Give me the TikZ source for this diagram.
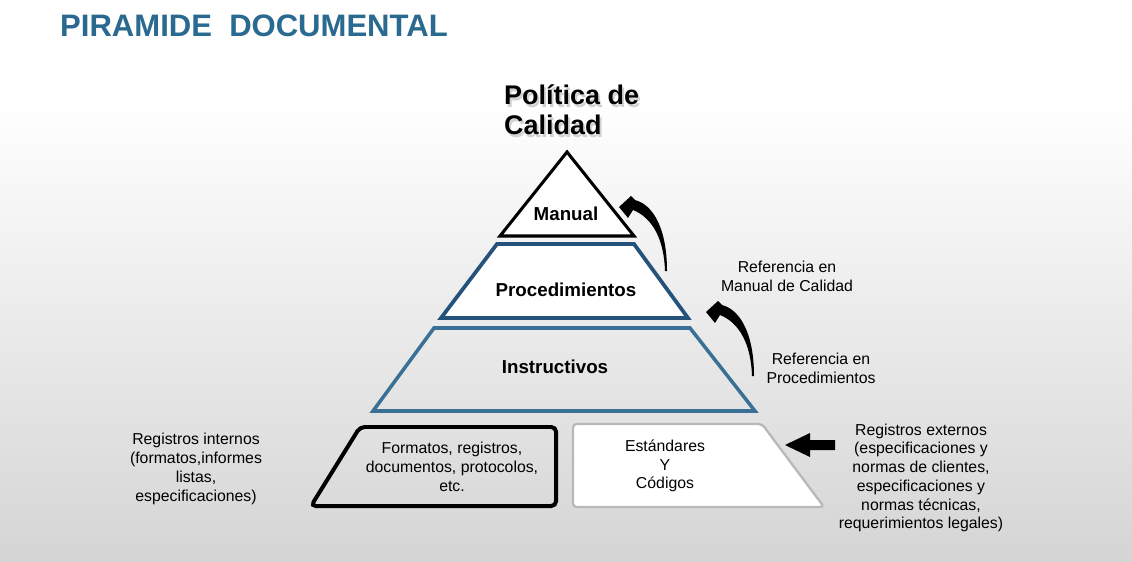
\documentclass[tikz,border=0pt]{standalone}
\usepackage{fontspec}
\setmainfont{Liberation Sans}
\definecolor{titleblue}{HTML}{2A6A90}
\definecolor{procblue}{HTML}{24527A}
\definecolor{instblue}{HTML}{3A7096}
\tikzset{
  boldlabel/.style={font=\fontsize{16}{19}\selectfont\bfseries, inner sep=0pt},
  note/.style={font=\fontsize{13.5}{16}\selectfont, align=center, inner sep=0pt},
  curvearrow/.pic={
    \fill (0,0) -- (12,-11) -- (16,-7) .. controls (35,-2) and (48,23) .. (48,64)
      -- (46,64) .. controls (45,33) and (34,11) .. (14,3) -- (9,11) -- cycle;
  }
}
\begin{document}
\begin{tikzpicture}[x=0.03cm,y=-0.03cm]
    % Background
    \fill[white] (0,0) rectangle (1132,561);
    \shade[top color=white,bottom color=gray!33] (0,100) rectangle (1132,561);
    \useasboundingbox (0,0) rectangle (1132,561);

    % Title
    \node[anchor=west,inner sep=0pt,text=titleblue,font=\fontsize{26.5}{30}\selectfont\bfseries] (title) at (60,26) {PIRAMIDE\ \ DOCUMENTAL};
    \node[anchor=west,inner sep=0pt,align=left,text=gray!35,font=\fontsize{23}{25.5}\selectfont\bfseries] (polshadow) at (506,113) {Política de\\ Calidad};
    \node[anchor=west,inner sep=0pt,align=left,font=\fontsize{23}{25.5}\selectfont\bfseries] (politica) at (504,110) {Política de\\ Calidad};

    % Draw pyramid
    \draw[line width=2.6pt,fill=white,line join=miter] (567,152) -- (634,236) -- (500,236) -- cycle; % Manual
    \draw[line width=3.2pt,procblue,fill=white] (497,244) -- (634,244) -- (688,318) -- (441,318) -- cycle; % Procedimientos
    \draw[line width=3pt,instblue] (434,328) -- (690,328) -- (755,411) -- (373,411) -- cycle; % Instructivos
    \draw[line width=3.4pt,rounded corners=4pt] (360,427) -- (556,427) -- (556,506) -- (311,506) -- cycle; % Formatos
    \draw[line width=2pt,gray!55,fill=white,rounded corners=3pt] (573,424) -- (762,424) -- (824,507) -- (573,507) -- cycle; % Estandares

    % Label levels
    \node[boldlabel] (manual) at (566,214) {Manual};
    \node[boldlabel] (proc) at (566,290) {Procedimientos};
    \node[boldlabel] (inst) at (555,367) {Instructivos};
    \node[note] (formatos) at (452,467) {Formatos, registros,\\ documentos, protocolos,\\ etc.};
    \node[note] (estandares) at (665,466) {Estándares\\ Y\\ Códigos};

    % Side notes
    \node[note] (refmanual) at (787,276) {Referencia en\\ Manual de Calidad};
    \node[note] (refproc) at (821,368) {Referencia en\\ Procedimientos};
    \node[note] (internos) at (196,469) {Registros internos\\ (formatos,informes\\ listas,\\ especificaciones)};
    \node[note] (externos) at (921,478) {Registros externos\\ (especificaciones y\\ normas de clientes,\\ especificaciones y\\ normas técnicas,\\ requerimientos legales)};

    % Arrows
    \coordinate (tipmanual) at (619,207);
    \coordinate (tipproc) at (706,312);
    \coordinate (tipext) at (785,445);
    \pic at (tipmanual) {curvearrow};
    \pic at (tipproc) {curvearrow};
    \fill (tipext) -- ++(25,-12) -- ++(0,7) -- ++(25,0) -- ++(0,10) -- ++(-25,0) -- ++(0,7) -- cycle;
\end{tikzpicture}
\end{document}
